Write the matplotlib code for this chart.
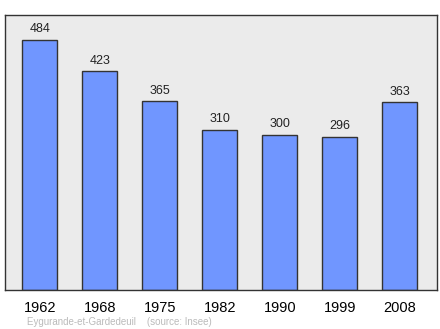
import matplotlib
matplotlib.use('Agg')
import matplotlib.pyplot as plt

years = ['1962', '1968', '1975', '1982', '1990', '1999', '2008']
population = [484, 423, 365, 310, 300, 296, 363]

plt.rcParams['font.family'] = ['Liberation Sans', 'DejaVu Sans']

fig = plt.figure(figsize=(4.4, 3.29), dpi=100)
ax = fig.add_axes([5 / 440, 1 - 290 / 329, 432 / 440, 275 / 329])
ax.set_facecolor('#ebebeb')

x = range(len(years))
bars = ax.bar(x, population, width=0.58, color='#7096ff', edgecolor='#333333', linewidth=1)
for i, v in enumerate(population):
    ax.text(i, v + 9, str(v), ha='center', va='bottom', fontsize=9, color='#222222')

ax.set_xlim(-0.58, 6.62)
ax.set_ylim(0, 532)
ax.set_xticks(list(x))
ax.set_xticklabels(years, fontsize=10.5)
ax.tick_params(axis='x', length=0, pad=8)
ax.set_yticks([])
for s in ax.spines.values():
    s.set_color('#333333')
    s.set_linewidth(1)

fig.text(27 / 440, 1 - 322 / 329, 'Eygurande-et-Gardedeuil    (source: Insee)',
         fontsize=7, color='#bbbbbb', va='center')

fig.savefig('out.png', dpi=100)
